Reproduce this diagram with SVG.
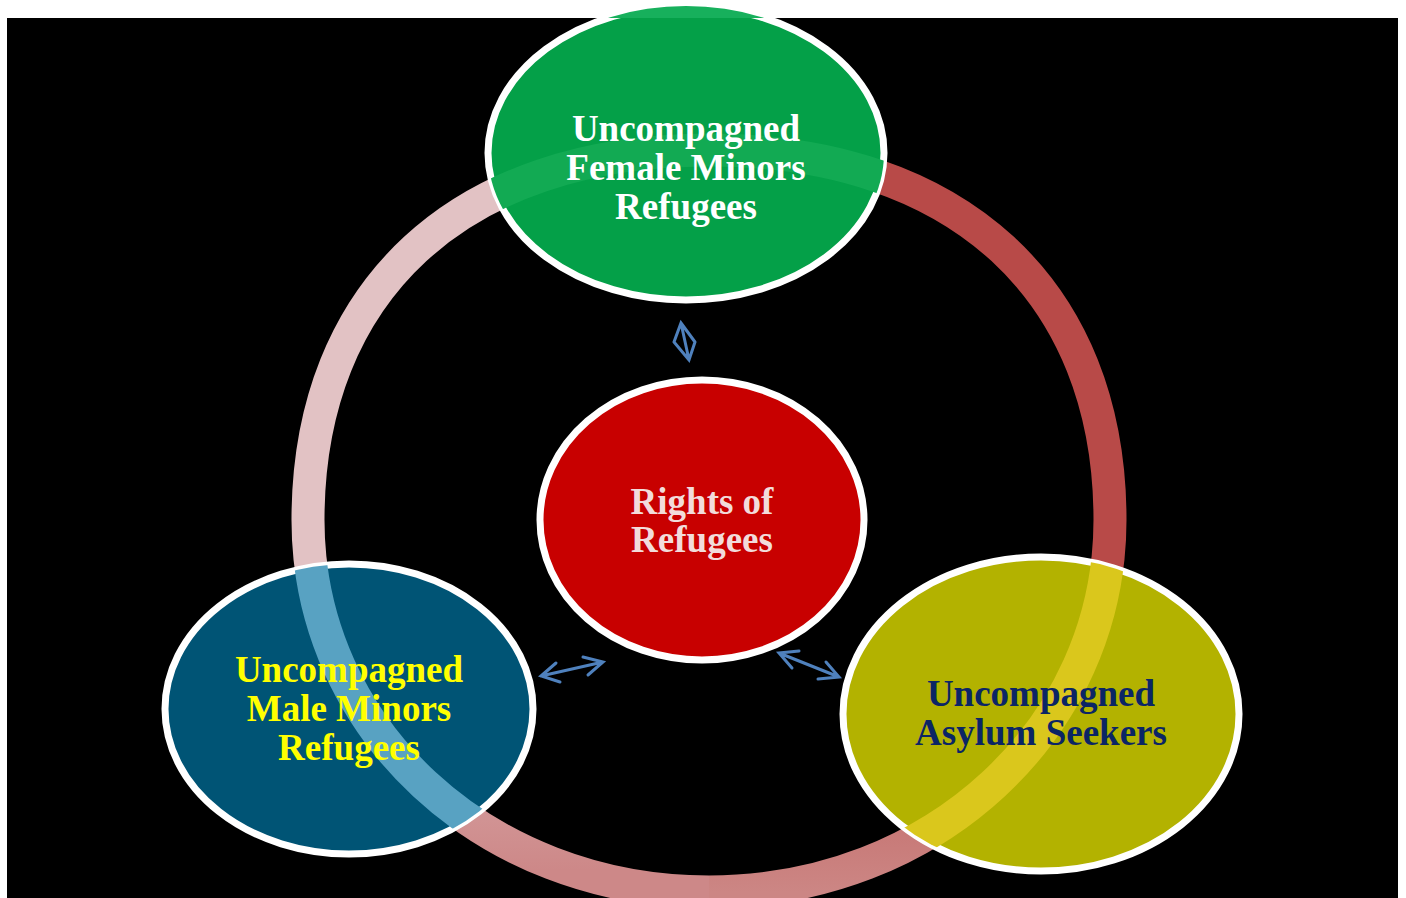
<svg xmlns="http://www.w3.org/2000/svg" width="1406" height="898" viewBox="0 0 1406 898">
  <defs>
    <style>
      .node { stroke: #ffffff; stroke-width: 7; }
      .lbl { font-family: "Liberation Serif", "Times New Roman", serif; font-weight: bold; font-size: 37px; text-anchor: middle; }
      .arrow { fill: none; stroke: #4F81BD; stroke-width: 3; stroke-linejoin: miter; stroke-linecap: round; }
      .ring { fill: none; stroke-width: 33; }
    </style>
    <linearGradient id="gRight" gradientUnits="userSpaceOnUse" x1="0" y1="600" x2="0" y2="892">
      <stop offset="0" stop-color="#B84A48"/>
      <stop offset="1" stop-color="#CC8684"/>
    </linearGradient>
    <linearGradient id="gLeft" gradientUnits="userSpaceOnUse" x1="0" y1="600" x2="0" y2="870">
      <stop offset="0" stop-color="#E2C2C4"/>
      <stop offset="1" stop-color="#CD8888"/>
    </linearGradient>
    <path id="ringFull" d="M308,520 C308,290.6 460.4,150 709,150 C957.6,150 1110,290.6 1110,520 C1110,728.3 933.6,892 709,892 C484.4,892 308,728.3 308,520 Z"/>
    <clipPath id="cGreen"><ellipse cx="686" cy="153" rx="198" ry="147"/></clipPath>
    <clipPath id="cBlue"><ellipse cx="349" cy="709" rx="184" ry="145"/></clipPath>
    <clipPath id="cYellow"><ellipse cx="1041" cy="714" rx="198" ry="157"/></clipPath>
  </defs>

  <rect x="0" y="0" width="1406" height="898" fill="#ffffff"/>
  <rect x="7" y="18" width="1391" height="880" fill="#000000"/>

  <g id="ring">
    <path class="ring" stroke="url(#gRight)" d="M709,150 C957.6,150 1110,290.6 1110,520 C1110,728.3 933.6,892 709,892"/>
    <path class="ring" stroke="url(#gLeft)" d="M709,892 C484.4,892 308,728.3 308,520 C308,290.6 460.4,150 709,150"/>
  </g>

  <g id="node-female">
    <ellipse class="node" cx="686" cy="153" rx="198" ry="147" fill="#04A048"/>
    <g clip-path="url(#cGreen)">
      <rect x="480" y="0" width="420" height="18" fill="#17B05C"/>
      <use href="#ringFull" fill="none" stroke="#12AA53" stroke-width="33"/>
    </g>
    <text class="lbl" fill="#ffffff" x="686" y="141">Uncompagned</text>
    <text class="lbl" fill="#ffffff" x="686" y="180">Female Minors</text>
    <text class="lbl" fill="#ffffff" x="686" y="219">Refugees</text>
  </g>

  <g id="node-male">
    <ellipse class="node" cx="349" cy="709" rx="184" ry="145" fill="#005475"/>
    <g clip-path="url(#cBlue)">
      <use href="#ringFull" fill="none" stroke="#58A2C2" stroke-width="33"/>
    </g>
    <text class="lbl" fill="#FFFF00" x="349" y="682">Uncompagned</text>
    <text class="lbl" fill="#FFFF00" x="349" y="721">Male Minors</text>
    <text class="lbl" fill="#FFFF00" x="349" y="760">Refugees</text>
  </g>

  <g id="node-asylum">
    <ellipse class="node" cx="1041" cy="714" rx="198" ry="157" fill="#B3B200"/>
    <g clip-path="url(#cYellow)">
      <use href="#ringFull" fill="none" stroke="#DAC71C" stroke-width="33"/>
    </g>
    <text class="lbl" fill="#0B2565" x="1041" y="706">Uncompagned</text>
    <text class="lbl" fill="#0B2565" x="1041" y="745">Asylum Seekers</text>
  </g>

  <g id="node-rights">
    <ellipse class="node" cx="702" cy="520" rx="162" ry="140" fill="#C80000"/>
    <text class="lbl" fill="#F2DCDB" x="702" y="514">Rights of</text>
    <text class="lbl" fill="#F2DCDB" x="702" y="552">Refugees</text>
  </g>

  <g id="connectors">
    <path class="arrow" d="M681,323 L689,360 M674,342 L681,323 L695,342 M674,342 L689,360 L695,342"/>
    <path class="arrow" d="M541,676 L603,662 M556,663 L541,676 L560,682 M583,657 L603,662 L588,675"/>
    <path class="arrow" d="M779,653 L839,677 M799,651 L779,653 L792,668 M826,662 L839,677 L818,679"/>
  </g>
</svg>
